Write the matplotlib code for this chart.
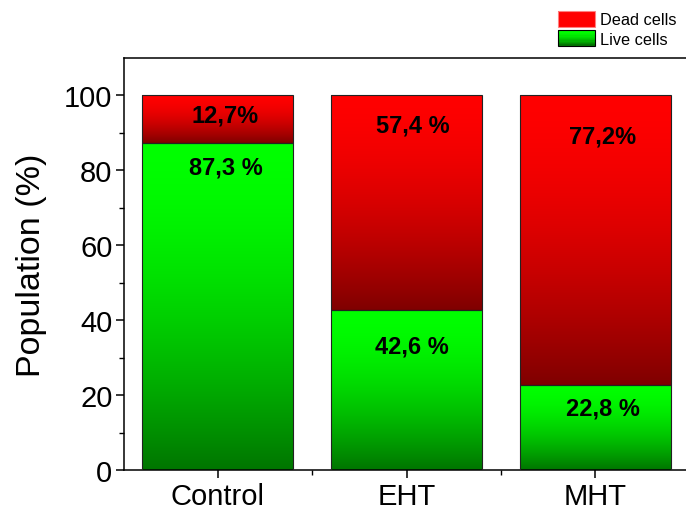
import matplotlib.pyplot as plt
import numpy as np
from matplotlib.legend_handler import HandlerBase
from matplotlib.patches import Rectangle

plt.rcParams["font.family"] = ["Liberation Sans", "DejaVu Sans"]

groups = ["Control", "EHT", "MHT"]
live = [87.3, 42.6, 22.8]
dead = [12.7, 57.4, 77.2]
live_labels = ["87,3 %", "42,6 %", "22,8 %"]
dead_labels = ["12,7%", "57,4 %", "77,2%"]

# label placement tweaks (data units)
live_label_drop = [6.5, 9.6, 6.3]
dead_label_drop = [5.3, 8.0, 10.7]
label_dx = [0.04, 0.03, 0.04]

GREEN_TOP, GREEN_BOT = np.array([0.0, 1.0, 0.0]), np.array([0.0, 0.46, 0.0])
RED_TOP, RED_BOT = np.array([1.0, 0.0, 0.0]), np.array([0.5, 0.0, 0.0])


def gradient(top, bottom, n=256, gamma=1.7):
    t = np.linspace(0, 1, n) ** gamma
    cols = top + (bottom - top) * t[:, None]
    return cols[:, None, :]


def fill_gradient(ax, bars, top, bottom):
    img = gradient(top, bottom)
    for r in bars:
        x0, y0 = r.get_x(), r.get_y()
        ax.imshow(img, extent=(x0, x0 + r.get_width(), y0, y0 + r.get_height()),
                  aspect="auto", origin="upper", zorder=2, interpolation="bilinear")


class GradientHandler(HandlerBase):
    def __init__(self, top, bottom, edge):
        super().__init__()
        self.top, self.bottom, self.edge = top, bottom, edge

    def create_artists(self, legend, orig_handle, xdescent, ydescent, width, height, fontsize, trans):
        n = 12
        arts = []
        for i in range(n):
            t = (i / (n - 1)) ** 1.7
            c = self.top + (self.bottom - self.top) * t
            y = -ydescent + height * (1 - (i + 1) / n)
            arts.append(Rectangle((-xdescent, y), width, height / n + 0.2,
                                  facecolor=c, edgecolor="none", transform=trans))
        arts.append(Rectangle((-xdescent, -ydescent), width, height, facecolor="none",
                              edgecolor=self.edge, lw=0.8, transform=trans))
        return arts


fig = plt.figure(figsize=(6.86, 5.10), dpi=100)
ax = fig.add_axes([0.1801, 0.0765, 0.8254, 0.8078])

x = np.arange(len(groups))
live_bars = ax.bar(x, live, width=0.8, facecolor="none", edgecolor="#222222", lw=0.8, zorder=3)
dead_bars = ax.bar(x, dead, width=0.8, bottom=live, facecolor="none", edgecolor="#222222", lw=0.8, zorder=3)
fill_gradient(ax, live_bars, GREEN_TOP, GREEN_BOT)
fill_gradient(ax, dead_bars, RED_TOP, RED_BOT)

for i in range(len(groups)):
    ax.text(x[i] + label_dx[i], live[i] - live_label_drop[i], live_labels[i],
            ha="center", va="center", fontsize=17, fontweight="bold", zorder=4)
    ax.text(x[i] + label_dx[i], live[i] + dead[i] - dead_label_drop[i], dead_labels[i],
            ha="center", va="center", fontsize=17, fontweight="bold", zorder=4)

ax.set_xlim(-0.5, 2.5)
ax.set_ylim(0, 110)
ax.set_xticks(x)
ax.set_xticklabels(groups)
ax.set_xticks([0.5, 1.5], minor=True)
ax.set_yticks(np.arange(0, 101, 20))
ax.set_yticks(np.arange(10, 101, 20), minor=True)
ax.tick_params(axis="both", which="major", direction="out", length=6, width=1.1, labelsize=21, pad=2)
ax.tick_params(axis="both", which="minor", direction="out", length=3.5, width=1.0)
ax.tick_params(axis="x", which="major", pad=3)
ax.set_ylabel("Population (%)", fontsize=24.5, labelpad=12)
for s in ax.spines.values():
    s.set_linewidth(1.1)

live_h = Rectangle((0, 0), 1, 1)
dead_h = Rectangle((0, 0), 1, 1, facecolor="red")
fig.legend([dead_h, live_h], ["Dead cells", "Live cells"],
           handler_map={dead_h: GradientHandler(RED_TOP, RED_TOP, "#ff8080"),
                        live_h: GradientHandler(GREEN_TOP, GREEN_BOT, "black")},
           loc="upper left", bbox_to_anchor=(0.8134, 0.9765), frameon=False,
           fontsize=11.7, borderpad=0, borderaxespad=0, handlelength=2.27,
           handleheight=1.11, labelspacing=0.18, handletextpad=0.3)

fig.savefig("out.png", dpi=100)
